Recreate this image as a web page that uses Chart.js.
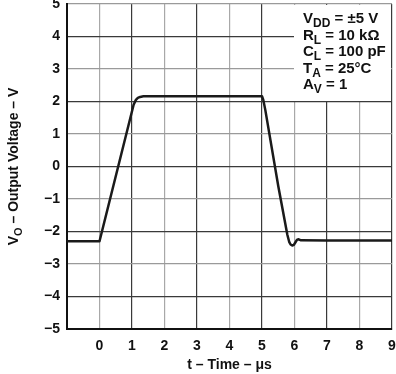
<!DOCTYPE html>
<html>
<head>
<meta charset="utf-8">
<script src="https://cdn.jsdelivr.net/npm/chart.js@4/dist/chart.umd.min.js"></script>
<style>
  html, body { margin: 0; padding: 0; background: #fff; }
  #wrap { width: 396px; height: 374px; }
</style>
</head>
<body>
<div id="wrap"><canvas id="c" width="396" height="374"></canvas></div>
<script>
// time in microseconds, output voltage in volts
const timeUs = [-1, 0, 1.05, 1.12, 1.18, 1.25, 1.35, 1.5, 2, 3, 4, 5.0, 5.04, 5.1, 5.5, 5.78, 5.84, 5.88, 5.93, 5.98, 6.03, 6.08, 6.13, 6.2, 7, 8, 9];
const voltage = [-2.3, -2.3, 1.9, 2.05, 2.11, 2.14, 2.16, 2.16, 2.16, 2.16, 2.16, 2.16, 2.05, 1.75, -0.6, -2.1, -2.33, -2.4, -2.43, -2.41, -2.33, -2.25, -2.24, -2.27, -2.28, -2.28, -2.28];
const xTicks = [0, 1, 2, 3, 4, 5, 6, 7, 8, 9];
const yTicks = [-5, -4, -3, -2, -1, 0, 1, 2, 3, 4, 5];
const notes = [
  ["V", "DD", " = \u00b15 V"],
  ["R", "L", " = 10 k\u03a9"],
  ["C", "L", " = 100 pF"],
  ["T", "A", " = 25\u00b0C"],
  ["A", "V", " = 1"],
];

const FONT = "'Liberation Sans', Arial, sans-serif";

function subText(ctx, x, y, parts, size) {
  ctx.font = `bold ${size}px ${FONT}`;
  ctx.fillText(parts[0], x, y);
  x += ctx.measureText(parts[0]).width;
  ctx.font = `bold ${size - 3}px ${FONT}`;
  ctx.fillText(parts[1], x, y + 4);
  x += ctx.measureText(parts[1]).width;
  ctx.font = `bold ${size}px ${FONT}`;
  ctx.fillText(parts[2], x, y);
}

const extras = {
  id: "extras",
  beforeDatasetsDraw(chart) {
    const { ctx, chartArea: a } = chart;
    ctx.save();
    // condition box over the grid
    ctx.fillStyle = "#fff";
    ctx.fillRect(294, a.top + 1, a.right - 295, 96);
    ctx.fillStyle = "#111";
    ctx.textBaseline = "alphabetic";
    notes.forEach((n, i) => subText(ctx, 303, 23 + i * 16.5, n, 15));
    ctx.restore();
  },
  afterDraw(chart) {
    const { ctx, chartArea: a } = chart;
    ctx.save();
    ctx.fillStyle = "#111";
    ctx.textBaseline = "alphabetic";
    // x title
    ctx.font = `bold 14px ${FONT}`;
    ctx.textAlign = "center";
    ctx.fillText("t \u2013 Time \u2013 \u03bcs", (a.left + a.right) / 2, 369);
    // y title with subscript
    ctx.translate(18, (a.top + a.bottom) / 2);
    ctx.rotate(-Math.PI / 2);
    const p = ["V", "O", " \u2013 Output Voltage \u2013 V"];
    ctx.font = `bold 14px ${FONT}`;
    let w = ctx.measureText(p[0]).width + ctx.measureText(p[2]).width;
    ctx.font = `bold 11px ${FONT}`;
    w += ctx.measureText(p[1]).width;
    ctx.textAlign = "left";
    subText(ctx, -w / 2, 0, p, 14);
    ctx.restore();
  },
};

new Chart(document.getElementById("c"), {
  type: "line",
  data: {
    datasets: [
      {
        data: timeUs.map((t, i) => ({ x: t, y: voltage[i] })),
        borderColor: "#1a1a1a",
        borderWidth: 2.5,
        borderJoinStyle: "round",
        pointRadius: 0,
        tension: 0,
        fill: false,
      },
    ],
  },
  options: {
    responsive: false,
    animation: false,
    layout: { padding: { top: 4, right: 4, left: 0, bottom: 0 } },
    plugins: { legend: { display: false }, tooltip: { enabled: false } },
    scales: {
      x: {
        type: "linear",
        min: -1,
        max: 9,
        afterBuildTicks: (s) => { s.ticks = [-1, ...xTicks].map((v) => ({ value: v })); },
        afterFit: (s) => { s.height = 45; s.paddingLeft = 0; s.paddingRight = 0; },
        ticks: {
          padding: 9,
          color: "#111",
          font: { family: FONT, size: 14, weight: "bold" },
          callback: (v) => (v < 0 ? "" : String(v)),
          maxRotation: 0,
        },
        grid: {
          drawTicks: false,
          color: (c) => (c.tick.value % 2 === 0 ? "#a8a8a8" : "#3a3a3a"),
          lineWidth: 1.2,
        },
        border: { color: "#111", width: 2 },
      },
      y: {
        min: -5,
        max: 5,
        afterBuildTicks: (s) => { s.ticks = yTicks.map((v) => ({ value: v })); },
        afterFit: (s) => { s.width = 67; s.paddingTop = 0; s.paddingBottom = 0; },
        ticks: {
          padding: 7,
          color: "#111",
          font: { family: FONT, size: 14, weight: "bold" },
          callback: (v) => (v < 0 ? "\u2212" + Math.abs(v) : String(v)),
        },
        grid: {
          drawTicks: false,
          color: (c) => (Math.abs(c.tick.value) % 2 === 1 ? "#9a9a9a" : "#3a3a3a"),
          lineWidth: 1.2,
        },
        border: { color: "#111", width: 2 },
      },
    },
  },
  plugins: [extras],
});
</script>
</body>
</html>
